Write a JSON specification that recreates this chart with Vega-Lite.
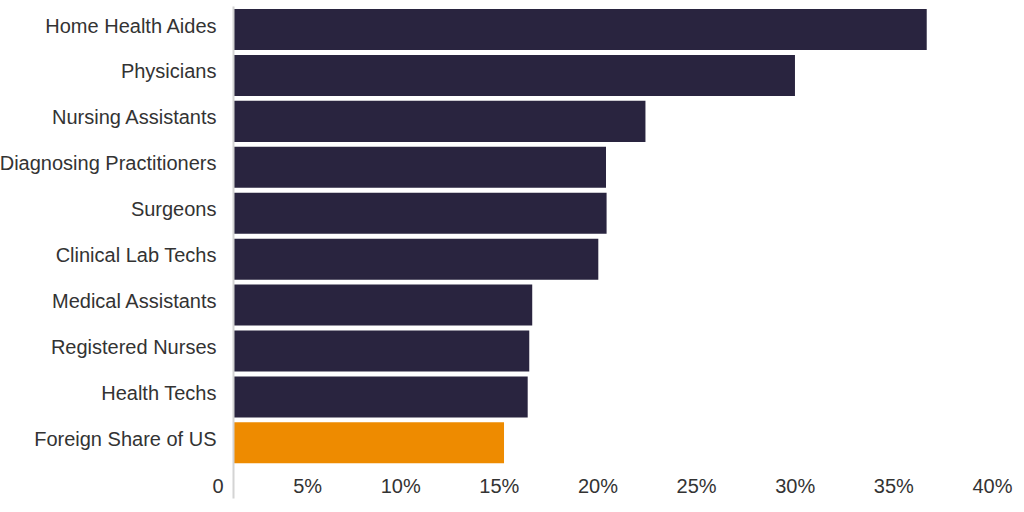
{
  "$schema": "https://vega.github.io/schema/vega-lite/v6.json",
  "description": "Foreign-born share of healthcare occupations",
  "width": 789,
  "height": 492,
  "autosize": {"type": "none"},
  "padding": {"left": 233, "top": 6, "right": 2, "bottom": 14},
  "config": {
    "view": {"stroke": null},
    "background": "white",
    "font": "Liberation Sans",
    "axis": {"labelFont": "Liberation Sans", "labelFontSize": 20, "labelColor": "#333333", "grid": false, "ticks": false, "title": null}
  },
  "data": {
    "values": [
      {"occupation": "Home Health Aides", "share": 35.17, "group": "occupation"},
      {"occupation": "Physicians", "share": 28.49, "group": "occupation"},
      {"occupation": "Nursing Assistants", "share": 20.91, "group": "occupation"},
      {"occupation": "Diagnosing Practitioners", "share": 18.91, "group": "occupation"},
      {"occupation": "Surgeons", "share": 18.94, "group": "occupation"},
      {"occupation": "Clinical Lab Techs", "share": 18.52, "group": "occupation"},
      {"occupation": "Medical Assistants", "share": 15.17, "group": "occupation"},
      {"occupation": "Registered Nurses", "share": 15.02, "group": "occupation"},
      {"occupation": "Health Techs", "share": 14.94, "group": "occupation"},
      {"occupation": "Foreign Share of US", "share": 13.74, "group": "us"}
    ]
  },
  "mark": {"type": "bar", "tooltip": true},
  "encoding": {
    "y": {
      "field": "occupation",
      "type": "nominal",
      "sort": null,
      "scale": {"paddingInner": 0.107, "paddingOuter": 0.41, "align": 0.08},
      "axis": {
        "domain": true,
        "domainColor": "#d4d4d4",
        "domainWidth": 2,
        "zindex": 1,
        "labelPadding": 17,
        "labelOffset": -3,
        "labelLimit": 300
      }
    },
    "x": {
      "field": "share",
      "type": "quantitative",
      "scale": {"domain": [0, 40], "nice": false},
      "axis": {
        "domain": false,
        "values": [0, 5, 10, 15, 20, 25, 30, 35, 40],
        "labelExpr": "datum.value == 0 ? '0' : datum.value + '%'",
        "labelAlign": "right",
        "labelOffset": -10,
        "labelPadding": 0,
        "offset": -22,
        "labelFlush": false,
        "labelOverlap": false
      }
    },
    "color": {
      "field": "group",
      "type": "nominal",
      "scale": {"domain": ["occupation", "us"], "range": ["#29243f", "#ee8b00"]},
      "legend": null
    },
    "tooltip": [
      {"field": "occupation", "type": "nominal", "title": "Occupation"},
      {"field": "share", "type": "quantitative", "title": "Foreign-born share (%)"}
    ]
  }
}
